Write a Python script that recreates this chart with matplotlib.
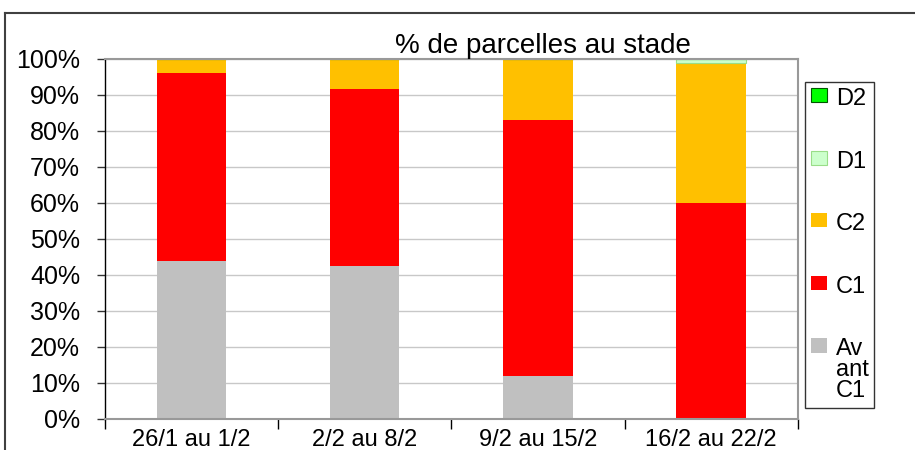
import numpy as np
import matplotlib.pyplot as plt
from matplotlib.lines import Line2D

plt.rcParams['font.family'] = ['Liberation Sans', 'DejaVu Sans']

periods = ["26/1 au 1/2", "2/2 au 8/2", "9/2 au 15/2", "16/2 au 22/2"]
avant_c1 = [44, 42.5, 12, 0]
c1 = [52, 49.2, 71, 60]
c2 = [4, 8.3, 17, 39]
d1 = [0, 0, 0, 1]
d2 = [0, 0, 0, 0]

series = [
    ("Av\nant\nC1", avant_c1, "#C0C0C0", "#C0C0C0"),
    ("C1", c1, "#FF0000", "#FF0000"),
    ("C2", c2, "#FFC000", "#FFC000"),
    ("D1", d1, "#CCFFCC", "#99DD88"),
    ("D2", d2, "#00FF00", "#005500"),
]

fig = plt.figure(figsize=(9.15, 4.5), dpi=100)
ax = fig.add_axes([0.1148, 0.0689, 0.757, 0.8])

index = np.arange(len(periods))
bottom = np.zeros(len(periods))
handles = []
for label, vals, color, edge in series:
    vals = np.array(vals, dtype=float)
    is_d = label.startswith("D")
    b = ax.bar(index, vals, 0.4, bottom=bottom, color=color,
               edgecolor=edge, linewidth=0.8 if is_d else 0, label=label)
    bottom += vals
    handles.append(b)

ax.set_xlim(-0.5, len(periods) - 0.5)
ax.set_ylim(0, 100)
ax.set_yticks(np.arange(0, 101, 10))
ax.set_yticklabels([f"{v}%" for v in range(0, 101, 10)], fontsize=18)
ax.set_xticks(index)
ax.set_xticklabels(periods, fontsize=17)
ax.tick_params(axis='x', length=0, pad=7)
ax.set_xticks(np.arange(-0.5, len(periods), 1), minor=True)
ax.tick_params(axis='x', which='minor', length=7, color='black', width=1)
ax.tick_params(axis='y', length=6, color='#333333', width=1, pad=12)
ax.yaxis.grid(True, color='#C8C8C8', linewidth=1)
ax.set_axisbelow(True)
for s in ['top', 'right', 'bottom']:
    ax.spines[s].set_color('#999999')
    ax.spines[s].set_linewidth(1.5)
ax.spines['left'].set_color('black')
ax.spines['left'].set_linewidth(1)

ax.set_title("% de parcelles au stade", fontsize=20, pad=3, x=0.632)

leg = fig.legend(handles[::-1], [s[0] for s in series][::-1],
                 loc='upper left', bbox_to_anchor=(805 / 915, 1 - 82 / 450),
                 fontsize=17, frameon=True, fancybox=False, edgecolor='black',
                 handlelength=0.7, handleheight=0.55, handletextpad=0.35,
                 labelspacing=1.72, borderpad=0.25, borderaxespad=0)
leg.get_frame().set_linewidth(1)
leg.get_texts()[-1].set_linespacing(0.92)
# put the square next to the first line of the wrapped label
for col in leg._legend_handle_box.get_children():
    for item in col.get_children():
        item.align = "top"

fig.add_artist(Line2D([5 / 915, 5 / 915], [0, 1 - 13 / 450], color='#404040', linewidth=1.5))
fig.add_artist(Line2D([5 / 915, 1], [1 - 13 / 450, 1 - 13 / 450], color='#404040', linewidth=1.5))

fig.savefig('out.png', dpi=100)
